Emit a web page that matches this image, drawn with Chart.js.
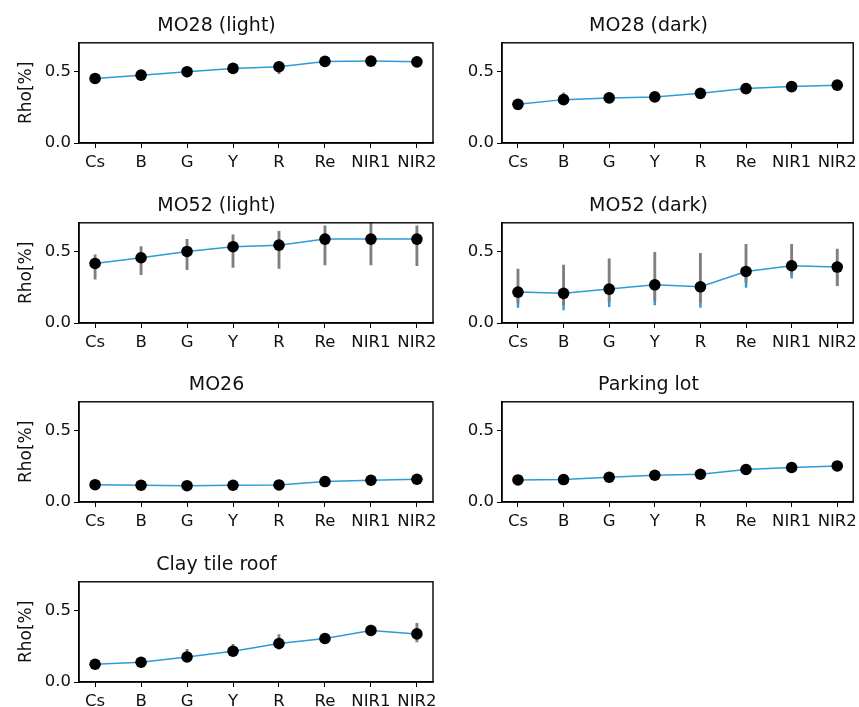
<!DOCTYPE html>
<html>
<head>
<meta charset="utf-8">
<script src="https://cdn.jsdelivr.net/npm/chart.js@4.4.1/dist/chart.umd.min.js"></script>
<style>
  html, body { margin: 0; padding: 0; background: #ffffff; }
  #wrap { position: relative; width: 859px; height: 707px; overflow: hidden; background: #fff; }
  canvas { position: absolute; }
</style>
</head>
<body>
<div id="wrap"></div>
<script>
// ---------- data ----------
const bands = ['Cs', 'B', 'G', 'Y', 'R', 'Re', 'NIR1', 'NIR2'];
const yTickValues = [0, 0.5];
const yLabel = 'Rho[%]';

const mo28LightMean = [0.451, 0.474, 0.498, 0.521, 0.533, 0.570, 0.572, 0.567];
const mo28LightLo   = [0.440, 0.440, 0.462, 0.505, 0.485, 0.555, 0.550, 0.540];
const mo28LightHi   = [0.460, 0.495, 0.520, 0.540, 0.555, 0.588, 0.598, 0.600];

const mo28DarkMean = [0.270, 0.303, 0.315, 0.322, 0.347, 0.380, 0.394, 0.404];
const mo28DarkLo   = [0.260, 0.270, 0.300, 0.310, 0.330, 0.370, 0.385, 0.395];
const mo28DarkHi   = [0.280, 0.350, 0.330, 0.335, 0.365, 0.390, 0.405, 0.415];

const mo52LightMean = [0.416, 0.456, 0.500, 0.533, 0.544, 0.586, 0.586, 0.586];
const mo52LightLo   = [0.307, 0.337, 0.372, 0.388, 0.381, 0.405, 0.405, 0.400];
const mo52LightHi   = [0.477, 0.533, 0.584, 0.616, 0.640, 0.679, 0.720, 0.679];

const mo52DarkMean   = [0.216, 0.207, 0.237, 0.267, 0.253, 0.360, 0.400, 0.391];
const mo52DarkLo     = [0.140, 0.126, 0.149, 0.156, 0.140, 0.284, 0.335, 0.260];
const mo52DarkHi     = [0.377, 0.405, 0.449, 0.493, 0.486, 0.549, 0.549, 0.516];
const mo52DarkBlueLo = [0.109, 0.091, 0.114, 0.126, 0.109, 0.249, 0.314, 0.260];

const mo26Mean = [0.121, 0.117, 0.114, 0.117, 0.119, 0.143, 0.152, 0.159];
const mo26Lo   = [0.113, 0.110, 0.107, 0.110, 0.111, 0.135, 0.144, 0.150];
const mo26Hi   = [0.129, 0.124, 0.121, 0.124, 0.127, 0.151, 0.160, 0.168];

const parkingMean = [0.154, 0.157, 0.173, 0.187, 0.194, 0.227, 0.241, 0.252];
const parkingLo   = [0.146, 0.149, 0.165, 0.179, 0.186, 0.219, 0.233, 0.244];
const parkingHi   = [0.162, 0.165, 0.181, 0.195, 0.202, 0.235, 0.249, 0.260];

const clayMean = [0.124, 0.138, 0.175, 0.215, 0.269, 0.304, 0.360, 0.336];
const clayLo   = [0.115, 0.125, 0.160, 0.200, 0.230, 0.295, 0.330, 0.280];
const clayHi   = [0.133, 0.150, 0.229, 0.264, 0.332, 0.314, 0.397, 0.409];

const panels = [
  { title: 'MO28 (light)',  mean: mo28LightMean, lo: mo28LightLo, hi: mo28LightHi, col: 0, row: 0 },
  { title: 'MO28 (dark)',   mean: mo28DarkMean,  lo: mo28DarkLo,  hi: mo28DarkHi,  col: 1, row: 0 },
  { title: 'MO52 (light)',  mean: mo52LightMean, lo: mo52LightLo, hi: mo52LightHi, col: 0, row: 1 },
  { title: 'MO52 (dark)',   mean: mo52DarkMean,  lo: mo52DarkLo,  hi: mo52DarkHi,  blueLo: mo52DarkBlueLo, col: 1, row: 1 },
  { title: 'MO26',          mean: mo26Mean,      lo: mo26Lo,      hi: mo26Hi,      col: 0, row: 2 },
  { title: 'Parking lot',   mean: parkingMean,   lo: parkingLo,   hi: parkingHi,   col: 1, row: 2 },
  { title: 'Clay tile roof',mean: clayMean,      lo: clayLo,      hi: clayHi,      col: 0, row: 3 }
];

// ---------- layout / style ----------
const FONT = 'DejaVu Sans';
const LINE_BLUE = '#2b9cd8';
const ERR_GRAY = '#7f7f7f';
const rowTops = [0, 180, 359, 539];
const colDefs = [
  { left: 0,   width: 440, axisW: 79, padRight: 7, showYTitle: true },
  { left: 440, width: 419, axisW: 62, padRight: 2, showYTitle: false }
];
const PLOT_H = 100, XAXIS_H = 36;

const framePlugin = {
  id: 'frame',
  afterDatasetsDraw(chart) {
    const a = chart.chartArea, ctx = chart.ctx;
    ctx.save();
    ctx.strokeStyle = '#000';
    ctx.lineWidth = 1.4;
    ctx.strokeRect(a.left, a.top, a.right - a.left, a.bottom - a.top);
    ctx.restore();
  }
};

const wrap = document.getElementById('wrap');

panels.forEach(p => {
  const c = colDefs[p.col];
  const canvas = document.createElement('canvas');
  const H = 43 + PLOT_H + XAXIS_H;
  canvas.width = c.width; canvas.height = H;
  canvas.style.left = c.left + 'px';
  canvas.style.top = rowTops[p.row] + 'px';
  canvas.style.width = c.width + 'px';
  canvas.style.height = H + 'px';
  wrap.appendChild(canvas);

  const datasets = [];
  datasets.push({
    type: 'line',
    data: p.mean.map((v, i) => ({ x: i, y: v })),
    borderColor: LINE_BLUE,
    borderWidth: 1.5,
    pointBackgroundColor: '#000',
    pointBorderColor: '#000',
    pointRadius: 5.8,
    pointBorderWidth: 0,
    tension: 0,
    order: 0
  });
  datasets.push({
    type: 'bar',
    data: p.mean.map((v, i) => ({ x: i, y: [p.lo[i], p.hi[i]] })),
    backgroundColor: ERR_GRAY,
    borderWidth: 0,
    barThickness: 2.2,
    grouped: false,
    order: 1
  });
  if (p.blueLo) {
    datasets.push({
      type: 'bar',
      data: p.mean.map((v, i) => ({ x: i, y: [p.blueLo[i], v] })),
      backgroundColor: LINE_BLUE,
      borderWidth: 0,
      barThickness: 1.8,
      grouped: false,
      order: 2
    });
  }

  new Chart(canvas, {
    type: 'line',
    data: { datasets },
    plugins: [framePlugin],
    options: {
      responsive: false,
      animation: false,
      devicePixelRatio: 1,
      layout: { padding: { left: 0, right: c.padRight, top: 0, bottom: 0 } },
      plugins: {
        legend: { display: false },
        tooltip: { enabled: false },
        title: {
          display: true,
          text: p.title,
          color: '#111',
          font: { family: FONT, size: 19, weight: 'normal' },
          padding: { top: 15, bottom: 5 }
        }
      },
      scales: {
        x: {
          type: 'linear',
          min: -0.35,
          max: 7.35,
          offset: false,
          afterBuildTicks(scale) { scale.ticks = bands.map((_, i) => ({ value: i })); },
          afterFit(scale) { scale.height = XAXIS_H; scale.paddingLeft = 0; scale.paddingRight = 0; },
          ticks: {
            autoSkip: false,
            maxRotation: 0,
            padding: 5,
            color: '#111',
            font: { family: FONT, size: 16.5 },
            callback: (v) => bands[v]
          },
          grid: { display: true, offset: false, drawOnChartArea: false, drawTicks: true, tickLength: 5, color: '#000', tickWidth: 1 },
          border: { display: true, color: '#000', width: 1.4 }
        },
        y: {
          type: 'linear',
          min: 0,
          max: 0.7,
          afterBuildTicks(scale) { scale.ticks = yTickValues.map(v => ({ value: v })); },
          afterFit(scale) { scale.width = c.axisW; scale.paddingTop = 0; scale.paddingBottom = 0; },
          ticks: {
            padding: 3,
            color: '#111',
            font: { family: FONT, size: 16.5 },
            callback: (v) => Number(v).toFixed(1)
          },
          grid: { display: true, drawOnChartArea: false, drawTicks: true, tickLength: 5, color: '#000', tickWidth: 1 },
          border: { display: true, color: '#000', width: 1.4 },
          title: {
            display: c.showYTitle,
            text: yLabel,
            color: '#111',
            font: { family: FONT, size: 17 },
            padding: { top: 16, bottom: 0 }
          }
        }
      }
    }
  });
});
</script>
</body>
</html>
